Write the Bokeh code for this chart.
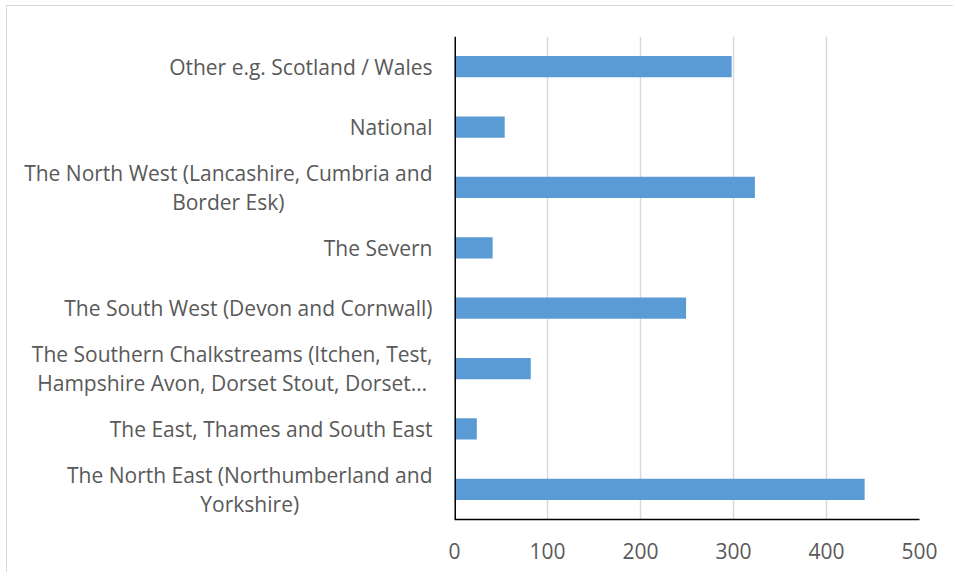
from bokeh.plotting import figure
from bokeh.models import FactorRange, ColumnDataSource, FixedTicker, Span
from bokeh.layouts import row
from bokeh.core.properties import value
from bokeh.embed import file_html
from bokeh.resources import INLINE

# Categories listed bottom to top
categories = [
    "The North East (Northumberland and\nYorkshire)",
    "The East, Thames and South East",
    "The Southern Chalkstreams (Itchen, Test,\nHampshire Avon, Dorset Stout, Dorset…",
    "The South West (Devon and Cornwall)",
    "The Severn",
    "The North West (Lancashire, Cumbria and\nBorder Esk)",
    "National",
    "Other e.g. Scotland / Wales",
]
values = [441, 24, 82, 249, 41, 323, 54, 298]
x_ticks = [0, 100, 200, 300, 400, 500]

FONT = "Open Sans"
TXT = "#595959"
src = ColumnDataSource(data=dict(cat=categories, val=values, xl=[1] * len(categories)))
yr = FactorRange(factors=categories, range_padding=0)

# label column (category tick labels)
lab = figure(
    width=437, height=566, y_range=yr, x_range=(0, 1),
    output_backend="svg", toolbar_location=None,
    min_border_left=0, min_border_right=0, min_border_top=30, min_border_bottom=53,
)
lab.axis.visible = False
lab.grid.visible = False
lab.outline_line_color = None
lab.text(x="xl", y="cat", text="cat", source=src, x_offset=-12,
         anchor="center_right", text_align="center",
         text_font=value(FONT), text_font_size=value("21px"),
         text_color=TXT, text_line_height=1.05)

p = figure(
    width=509, height=566, y_range=yr, x_range=(0, 500),
    output_backend="svg", toolbar_location=None,
    min_border_left=10, min_border_right=34, min_border_top=30, min_border_bottom=53,
)
p.hbar(y="cat", right="val", left=0, height=0.35, source=src,
       fill_color="#5b9bd5", line_color=None)

p.outline_line_color = None
p.ygrid.grid_line_color = None
p.xgrid.grid_line_color = "#d9d9d9"
p.xgrid.grid_line_width = 1.5
p.xaxis.ticker = FixedTicker(ticks=x_ticks)
p.yaxis.visible = False
p.add_layout(Span(location=0, dimension="height", line_color="black", line_width=3))

ax = p.xaxis
ax.axis_line_color = "black"
ax.axis_line_width = 1.5
ax.major_tick_line_color = None
ax.minor_tick_line_color = None
ax.major_label_text_font = FONT
ax.major_label_text_font_size = "21px"
ax.major_label_text_color = TXT
ax.major_label_standoff = 17

layout = row(lab, p, spacing=0)
layout.styles = {"margin-left": "6px", "margin-top": "5px",
                 "border-left": "1px solid #d9d9d9", "border-top": "1px solid #d9d9d9"}

open("out.html", "w").write(file_html(layout, INLINE))
